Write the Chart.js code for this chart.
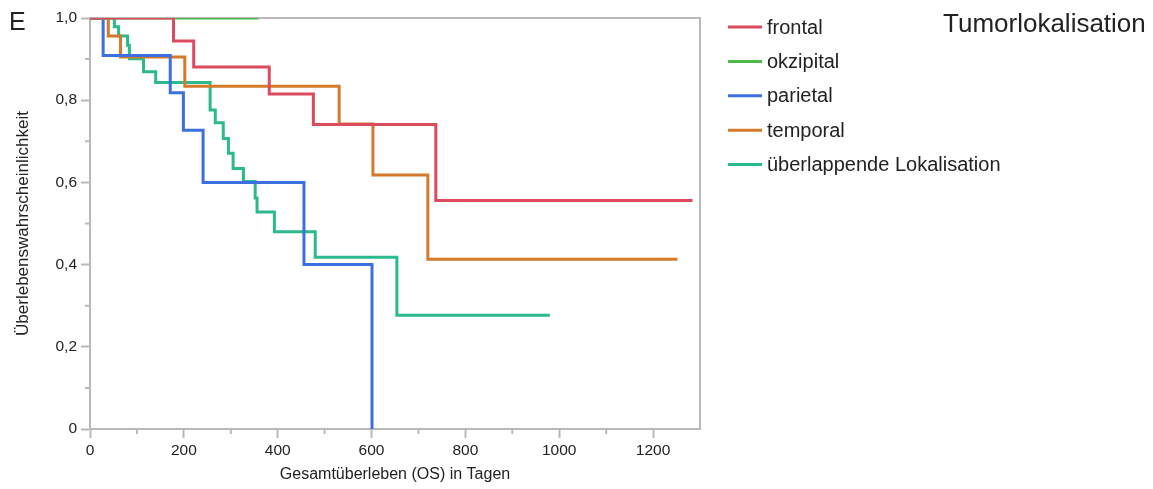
<!DOCTYPE html>
<html>
<head>
<meta charset="utf-8">
<script src="https://cdn.jsdelivr.net/npm/chart.js@4.4.1/dist/chart.umd.min.js"></script>
<style>
  html, body { margin: 0; padding: 0; background: #fff; }
</style>
</head>
<body>
<canvas id="km" width="1153" height="489"></canvas>
<script>
// Kaplan-Meier Daten, Tage und Überlebenswahrscheinlichkeit
const groupNames = ['frontal', 'okzipital', 'parietal', 'temporal', 'überlappende Lokalisation'];
const groupColors = ['#dc4a5e', '#4cb84a', '#3c6fe0', '#d47a2a', '#2bb98e'];

const frontalDays = [0, 178, 221, 382, 476, 737, 1284];
const frontalSurv = [1.0, 0.944, 0.881, 0.815, 0.741, 0.556, 0.556];

const okzipitalDays = [0, 359];
const okzipitalSurv = [1.0, 1.0];

const parietalDays = [0, 28, 171, 199, 241, 456, 601];
const parietalSurv = [1.0, 0.909, 0.818, 0.727, 0.600, 0.400, 0.0];

const temporalDays = [0, 39, 65, 202, 531, 603, 720, 1252];
const temporalSurv = [1.0, 0.956, 0.905, 0.834, 0.742, 0.618, 0.413, 0.413];

const ueberlappendDays = [0, 52, 61, 80, 84, 114, 140, 256, 267, 284, 295, 305, 327, 352, 356, 393, 480, 654, 980];
const ueberlappendSurv = [1.0, 0.979, 0.956, 0.934, 0.901, 0.869, 0.843, 0.776, 0.745, 0.707, 0.671, 0.634, 0.602, 0.562, 0.528, 0.480, 0.418, 0.277, 0.277];

const xTicksMajor = [0, 200, 400, 600, 800, 1000, 1200];
const xTicksMinor = [100, 300, 500, 700, 900, 1100];
const yTicksMinor = [0.1, 0.3, 0.5, 0.7, 0.9];

const axisGray = '#b9b9b9';
const textColor = '#222';
const fontFamily = '"Liberation Sans", Arial, Helvetica, sans-serif';

function toPoints(days, surv) {
  return days.map((d, i) => ({ x: d, y: surv[i] }));
}

const allDays = [frontalDays, okzipitalDays, parietalDays, temporalDays, ueberlappendDays];
const allSurv = [frontalSurv, okzipitalSurv, parietalSurv, temporalSurv, ueberlappendSurv];

const datasets = groupNames.map((name, i) => ({
  label: name,
  data: toPoints(allDays[i], allSurv[i]),
  borderColor: groupColors[i],
  borderWidth: 3,
  pointRadius: 0,
  stepped: true,
  fill: false
}));

// Rahmen oben/rechts, kleine Zwischenticks, Legende und Beschriftungen
const decorations = {
  id: 'decorations',
  beforeDatasetsDraw(chart) {
    const { ctx, chartArea, scales } = chart;
    ctx.save();
    ctx.strokeStyle = axisGray;
    ctx.lineWidth = 2;
    ctx.beginPath();
    ctx.moveTo(chartArea.left, chartArea.top);
    ctx.lineTo(chartArea.right, chartArea.top);
    ctx.lineTo(chartArea.right, chartArea.bottom);
    ctx.stroke();
    // minor ticks
    ctx.beginPath();
    xTicksMinor.forEach(v => {
      const px = scales.x.getPixelForValue(v);
      ctx.moveTo(px, chartArea.bottom);
      ctx.lineTo(px, chartArea.bottom + 5);
    });
    yTicksMinor.forEach(v => {
      const py = scales.y.getPixelForValue(v);
      ctx.moveTo(chartArea.left, py);
      ctx.lineTo(chartArea.left - 5, py);
    });
    ctx.stroke();
    ctx.restore();
  },
  afterDraw(chart) {
    const { ctx } = chart;
    ctx.save();
    ctx.fillStyle = textColor;
    ctx.textBaseline = 'middle';
    ctx.textAlign = 'left';
    // Panelbuchstabe
    ctx.font = '25px ' + fontFamily;
    ctx.fillText('E', 9, 23);
    // Legendentitel
    ctx.font = '26px ' + fontFamily;
    ctx.fillText('Tumorlokalisation', 943, 25);
    // Legende
    ctx.font = '20px ' + fontFamily;
    chart.data.datasets.forEach((ds, i) => {
      const y = 27 + i * 34.4;
      ctx.strokeStyle = ds.borderColor;
      ctx.lineWidth = 3;
      ctx.beginPath();
      ctx.moveTo(728, y);
      ctx.lineTo(762, y);
      ctx.stroke();
      ctx.fillText(ds.label, 767, y + 1);
    });
    ctx.restore();
  }
};

new Chart(document.getElementById('km'), {
  type: 'line',
  data: { datasets: datasets },
  options: {
    responsive: false,
    animation: false,
    layout: { padding: { left: 0, top: 18, right: 453, bottom: 0 } },
    plugins: {
      legend: { display: false },
      tooltip: { enabled: false }
    },
    scales: {
      x: {
        type: 'linear',
        min: 0,
        max: 1300,
        afterFit: scale => { scale.height = 60; },
        afterBuildTicks: scale => { scale.ticks = xTicksMajor.map(v => ({ value: v })); },
        ticks: {
          font: { family: fontFamily, size: 15.5 },
          color: textColor,
          padding: 3,
          maxRotation: 0,
          callback: v => String(v)
        },
        grid: { display: true, drawOnChartArea: false, tickLength: 9, tickColor: axisGray, tickWidth: 2 },
        border: { display: true, color: axisGray, width: 2 },
        title: {
          display: true,
          text: 'Gesamtüberleben (OS) in Tagen',
          font: { family: fontFamily, size: 16 },
          color: textColor,
          padding: { top: 2, bottom: 5 }
        }
      },
      y: {
        min: 0,
        max: 1,
        afterFit: scale => { scale.width = 90; },
        ticks: {
          stepSize: 0.2,
          font: { family: fontFamily, size: 15.5 },
          color: textColor,
          padding: 4,
          callback: v => (v === 0 ? '0' : v.toFixed(1).replace('.', ','))
        },
        grid: { display: true, drawOnChartArea: false, tickLength: 9, tickColor: axisGray, tickWidth: 2 },
        border: { display: true, color: axisGray, width: 2 },
        title: {
          display: true,
          text: 'Überlebenswahrscheinlichkeit',
          font: { family: fontFamily, size: 17 },
          color: textColor,
          padding: { top: 13, bottom: 0 }
        }
      }
    }
  },
  plugins: [decorations]
});
</script>
</body>
</html>
